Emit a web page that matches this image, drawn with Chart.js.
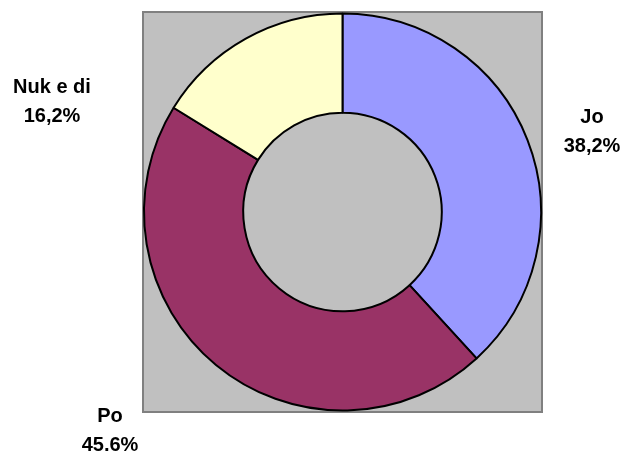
<!DOCTYPE html>
<html>
<head>
<meta charset="utf-8">
<script src="https://cdn.jsdelivr.net/npm/chart.js@4"></script>
<style>
    html, body { margin: 0; padding: 0; background: #ffffff; }
    #wrap { width: 623px; height: 451px; position: relative; }
</style>
</head>
<body>
<div id="wrap"><canvas id="chart"></canvas></div>
<script>
// Data
const categories = ["Jo", "Po", "Nuk e di"];
const shares = [38.2, 45.6, 16.2];
const shareLabels = ["38,2%", "45,6%", "16,2%"];
const sliceColors = ["#9999FF", "#993366", "#FFFFCC"];

// Where the two-line labels sit (text centre x, first baseline y)
const labelSpots = [
    { x: 592, y: 123 },
    { x: 110, y: 422 },
    { x: 52, y: 93 }
];

const plotBackground = {
    id: "plotBackground",
    beforeDraw: chart => {
        const ctx = chart.ctx;
        const area = chart.chartArea;
        ctx.save();
        ctx.fillStyle = "#C0C0C0";
        ctx.fillRect(area.left, area.top, area.right - area.left, area.bottom - area.top);
        ctx.strokeStyle = "#808080";
        ctx.lineWidth = 2;
        ctx.strokeRect(area.left, area.top, area.right - area.left, area.bottom - area.top);
        ctx.restore();
    }
};

const sliceLabels = {
    id: "sliceLabels",
    afterDraw: chart => {
        const ctx = chart.ctx;
        ctx.save();
        ctx.fillStyle = "#000000";
        ctx.font = "bold 20px 'Liberation Sans', Arial, sans-serif";
        ctx.textAlign = "center";
        ctx.textBaseline = "alphabetic";
        categories.forEach((name, i) => {
            const spot = labelSpots[i];
            ctx.fillText(name, spot.x, spot.y);
            ctx.fillText(shareLabels[i], spot.x, spot.y + 29);
        });
        ctx.restore();
    }
};

new Chart(document.getElementById("chart"), {
    type: "doughnut",
    data: {
        labels: categories,
        datasets: [{
            data: shares,
            backgroundColor: sliceColors,
            borderColor: "#000000",
            borderWidth: 2,
            hoverOffset: 0
        }]
    },
    options: {
        responsive: true,
        maintainAspectRatio: false,
        animation: false,
        cutout: "50%",
        layout: { padding: { left: 143, right: 81, top: 12, bottom: 39 } },
        plugins: {
            legend: { display: false },
            tooltip: { enabled: false }
        }
    },
    plugins: [plotBackground, sliceLabels]
});
</script>
</body>
</html>
